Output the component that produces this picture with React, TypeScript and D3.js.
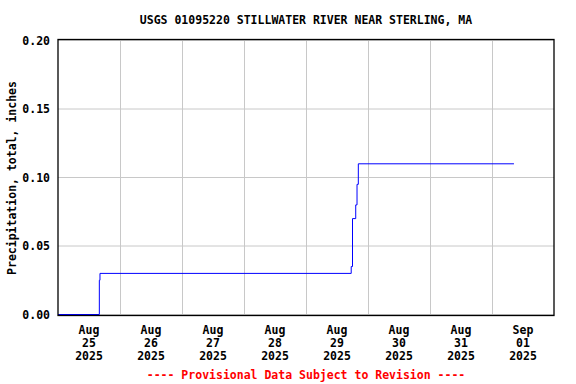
import React from "react";
import * as d3 from "d3";

const title = "USGS 01095220 STILLWATER RIVER NEAR STERLING, MA";
const yLabel = "Precipitation, total, inches";
const footer = "---- Provisional Data Subject to Revision ----";

const times = [
  "2025-08-25T00:00",
  "2025-08-25T16:00",
  "2025-08-25T16:15",
  "2025-08-29T17:30",
  "2025-08-29T18:00",
  "2025-08-29T19:15",
  "2025-08-29T19:45",
  "2025-08-29T20:15",
  "2025-09-01T08:30",
];
const values = [0.0, 0.025, 0.03, 0.035, 0.07, 0.08, 0.095, 0.11, 0.11];

const yTicks = [0, 0.05, 0.1, 0.15, 0.2];
const dayTicks = [
  "2025-08-25", "2025-08-26", "2025-08-27", "2025-08-28",
  "2025-08-29", "2025-08-30", "2025-08-31", "2025-09-01",
];
const tickMonth = ["Aug", "Aug", "Aug", "Aug", "Aug", "Aug", "Aug", "Sep"];
const tickDay = ["25", "26", "27", "28", "29", "30", "31", "01"];
const tickYear = ["2025", "2025", "2025", "2025", "2025", "2025", "2025", "2025"];
const xStart = "2025-08-25T00:00";
const xEnd = "2025-09-02T00:00";

const W = 576, H = 384;
const L = 58, R = 554, T = 40, B = 316;
const FONT = "'DejaVu Sans Mono', 'Liberation Mono', monospace";

export default function App() {
  const parse = (s: string) => new Date(s + (s.length === 10 ? "T00:00" : ""));
  const x = d3.scaleTime().domain([parse(xStart), parse(xEnd)]).range([L, R]);
  const y = d3.scaleLinear().domain([0, 0.2]).range([314.5, 40.5]);
  const data = times.map((t, i) => ({ t: parse(t), v: values[i] }));
  const line = d3.line<{ t: Date; v: number }>()
    .x(d => x(d.t))
    .y(d => y(d.v))
    .curve(d3.curveStepAfter);
  const days = dayTicks.map(parse);
  const gridX = d3.timeDay.range(d3.timeDay.offset(parse(xStart), 1), parse(xEnd));

  return (
    <svg width={W} height={H} style={{ position: "absolute", left: 0, top: 0, background: "#fff" }}
      fontFamily={FONT} fontWeight="bold" fontSize={11.5}>
      <rect x={0} y={0} width={W} height={H} fill="#fff" />
      <text x={306} y={24} textAnchor="middle" fill="#000">{title}</text>
      {gridX.map((d, i) => (
        <line key={"gx" + i} x1={Math.round(x(d)) + 0.5} x2={Math.round(x(d)) + 0.5} y1={T} y2={B} stroke="#c8c8c8" strokeWidth={1} />
      ))}
      {yTicks.map((v, i) => (
        <g key={"gy" + i}>
          <line x1={L} x2={R} y1={y(v)} y2={y(v)} stroke="#c8c8c8" strokeWidth={1} />
          <text x={50} y={y(v) + 4} textAnchor="end" fill="#000">{v.toFixed(2)}</text>
        </g>
      ))}
      <path d={line(data) || ""} fill="none" stroke="#0000ff" strokeWidth={1} />
      <rect x={L} y={T - 0.5} width={R - L} height={B - T} fill="none" stroke="#000" strokeWidth={1.3} />
      {days.map((d, i) => {
        const cx = x(d3.timeHour.offset(d, 12));
        return (
          <g key={"xl" + i}>
            <text x={cx} y={334} textAnchor="middle" fill="#000">{tickMonth[i]}</text>
            <text x={cx} y={347} textAnchor="middle" fill="#000">{tickDay[i]}</text>
            <text x={cx} y={360} textAnchor="middle" fill="#000">{tickYear[i]}</text>
          </g>
        );
      })}
      <text transform={`translate(16,${(T + B) / 2}) rotate(-90)`} textAnchor="middle" fill="#000">{yLabel}</text>
      <text x={306} y={379} textAnchor="middle" fill="#ff0000">{footer}</text>
    </svg>
  );
}
